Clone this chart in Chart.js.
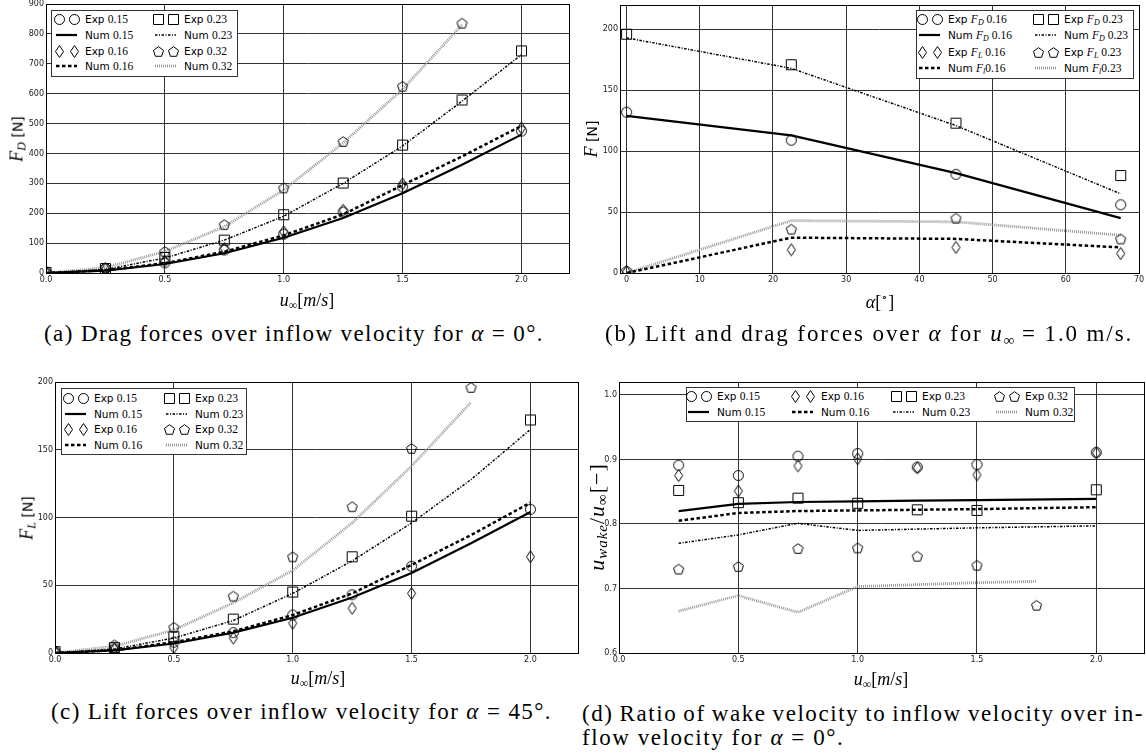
<!DOCTYPE html>
<html><head><meta charset="utf-8">
<script src="https://cdn.jsdelivr.net/npm/chart.js@4"></script>
<style>
html,body{margin:0;padding:0;background:#fff;}
body{width:1146px;height:754px;position:relative;overflow:hidden;font-family:'DejaVu Sans',sans-serif;color:#000;}
.cw{position:absolute;}
.lg{position:absolute;background:#fff;border:1px solid #333;box-sizing:border-box;}
.li{position:absolute;white-space:nowrap;font-size:10.5px;line-height:12px;transform:translateY(-50%);}
.sf{font-family:'Liberation Serif',serif;font-size:11.5px;}
.sf i{font-style:italic;}
.sf sub{font-size:8px;vertical-align:-2px;line-height:0;}
.ax{position:absolute;white-space:nowrap;font-family:'Liberation Serif',serif;font-size:18px;line-height:20px;}
.ax sub{font-size:12px;vertical-align:-3px;line-height:0;}
.ax .ss{font-family:'DejaVu Sans',sans-serif;font-size:14px;}
.ax.big{font-size:22px;letter-spacing:1px;}
.ax.big sub{font-size:15px;}
.cap{position:absolute;white-space:nowrap;font-family:'Liberation Serif',serif;font-size:23px;line-height:26px;}
.cap sub{font-size:15px;vertical-align:-4px;line-height:0;letter-spacing:0;}
</style>
</head><body>
<script>
// ---------------- DATA ----------------
// (a) drag forces over inflow velocity, alpha = 0
const uA = [0, 0.25, 0.5, 0.75, 1.0, 1.25, 1.5, 1.75, 2.0];
const uExpA = [0, 0.25, 0.5, 0.75, 1.0, 1.25, 1.5, 2.0];
const uExpA023 = [0, 0.25, 0.5, 0.75, 1.0, 1.25, 1.5, 1.75, 2.0];
const uA032 = [0, 0.25, 0.5, 0.75, 1.0, 1.25, 1.5, 1.75];
const expA015 = [3, 15, 34, 77, 130, 204, 288, 475];
const expA016 = [2, 13, 40, 82, 138, 210, 298, 485];
const expA023 = [2, 15, 52, 110, 195, 301, 428, 579, 743];
const expA032 = [3, 18, 72, 162, 285, 440, 625, 836];
const numA015 = [0, 8, 30, 66, 118, 184, 267, 362, 463];
const numA016 = [0, 9, 33, 71, 126, 196, 294, 390, 492];
const numA023 = [0, 12, 50, 110, 190, 300, 425, 575, 730];
const numA032 = [0, 18, 72, 155, 278, 435, 615, 830];
const ticksAx = [0, 0.5, 1.0, 1.5, 2.0];
const ticksAy = [0, 100, 200, 300, 400, 500, 600, 700, 800, 900];

// (b) lift and drag over alpha, u = 1.0 m/s
const alphaB = [0, 22.5, 45, 67.5];
const expFD016 = [132, 109, 81, 56];
const numFD016 = [129, 113, 82, 45];
const expFD023 = [196, 171, 123, 80];
const numFD023 = [193, 168, 121, 65];
const expFL016 = [1, 19, 21, 16];
const numFL016 = [0, 29, 28, 21];
const expFL023 = [2, 36, 45, 28];
const numFL023 = [0, 43, 42, 31];
const ticksBx = [0, 10, 20, 30, 40, 50, 60, 70];
const ticksBy = [0, 50, 100, 150, 200];

// (c) lift forces over inflow velocity, alpha = 45
const uExpC = [0, 0.25, 0.5, 0.75, 1.0, 1.25, 1.5, 2.0];
const uC = [0, 0.25, 0.5, 0.75, 1.0, 1.25, 1.5, 1.75, 2.0];
const uC032 = [0, 0.25, 0.5, 0.75, 1.0, 1.25, 1.5, 1.75];
const expC015 = [1, 3, 8, 15, 28, 43, 64, 106];
const expC016 = [1, 3, 4, 11, 22, 33, 44, 71];
const expC023 = [1, 4, 12, 25, 45, 71, 101, 172];
const expC032 = [1, 6, 19, 42, 71, 108, 151, 196];
const numC015 = [0, 2, 7, 15, 26, 41, 59, 81, 104];
const numC016 = [0, 2, 8, 16, 28, 44, 65, 87, 111];
const numC023 = [0, 3, 11, 24, 44, 68, 96, 128, 165];
const numC032 = [0, 5, 17, 37, 61, 96, 138, 185];
const ticksCx = [0, 0.5, 1.0, 1.5, 2.0];
const ticksCy = [0, 50, 100, 150, 200];

// (d) wake velocity ratio over inflow velocity, alpha = 0
const uD = [0.25, 0.5, 0.75, 1.0, 1.25, 1.5, 2.0];
const uD032 = [0.25, 0.5, 0.75, 1.0, 1.25, 1.5, 1.75];
const expD015 = [0.891, 0.875, 0.905, 0.909, 0.888, 0.892, 0.911];
const expD016 = [0.875, 0.851, 0.890, 0.901, 0.887, 0.876, 0.910];
const expD023 = [0.852, 0.833, 0.840, 0.832, 0.822, 0.821, 0.853];
const expD032 = [0.730, 0.734, 0.762, 0.763, 0.750, 0.736, 0.674];
const numD015 = [0.820, 0.831, 0.834, 0.835, 0.836, 0.837, 0.839];
const numD016 = [0.805, 0.817, 0.820, 0.821, 0.822, 0.823, 0.826];
const numD023 = [0.770, 0.783, 0.801, 0.790, 0.792, 0.794, 0.797];
const numD032 = [0.665, 0.689, 0.663, 0.703, 0.706, 0.709, 0.711];
const ticksDx = [0, 0.5, 1.0, 1.5, 2.0];
const ticksDy = [0.6, 0.7, 0.8, 0.9, 1.0];

// ---------------- STYLES ----------------
function marker(shape) {
  const c = document.createElement('canvas');
  let w = 13, h = 13;
  if (shape === 'diamond') { w = 11; h = 15; }
  c.width = w; c.height = h;
  const g = c.getContext('2d');
  g.strokeStyle = '#000'; g.lineWidth = 1;
  g.beginPath();
  if (shape === 'circle') { g.arc(6.5, 6.5, 5, 0, Math.PI * 2); }
  else if (shape === 'square') { g.rect(1.5, 1.5, 10, 10); }
  else if (shape === 'diamond') { g.moveTo(5.5, 1.5); g.lineTo(9.5, 7.5); g.lineTo(5.5, 13.5); g.lineTo(1.5, 7.5); g.closePath(); }
  else if (shape === 'pentagon') {
    for (let k = 0; k < 5; k++) {
      const a = -Math.PI / 2 + k * 2 * Math.PI / 5;
      const px = 6.5 + 5.3 * Math.cos(a), py = 7 + 5.3 * Math.sin(a);
      if (k === 0) g.moveTo(px, py); else g.lineTo(px, py);
    }
    g.closePath();
  }
  g.stroke();
  return c;
}
const MK = { circle: marker('circle'), square: marker('square'), diamond: marker('diamond'), pentagon: marker('pentagon') };
const LS = {
  solid: { color: '#000', width: 2.2, dash: [] },
  dashed: { color: '#000', width: 2.5, dash: [3.5, 2.5] },
  dashdot: { color: '#000', width: 1.5, dash: [2.5, 1.5, 1, 1.5] },
  gray: { color: '#999', width: 2.8, dash: [1, 1] }
};

function pts(xs, ys) { return xs.map((x, i) => ({ x: x, y: ys[i] })); }
function expDS(xs, ys, shape) {
  return { data: pts(xs, ys), showLine: false, pointStyle: MK[shape], pointRadius: 6, clip: 0, order: 1 };
}
function numDS(xs, ys, st) {
  const s = LS[st];
  return { data: pts(xs, ys), showLine: true, pointRadius: 0, borderColor: s.color, borderWidth: s.width, borderDash: s.dash, tension: 0, fill: false, clip: 0, order: 2 };
}

const framePlugin = {
  id: 'frame',
  afterDatasetsDraw(chart) {
    const a = chart.chartArea, ctx = chart.ctx;
    ctx.save(); ctx.strokeStyle = '#000'; ctx.lineWidth = 1; ctx.setLineDash([]);
    ctx.strokeRect(Math.round(a.left) + 0.5, Math.round(a.top) + 0.5, Math.round(a.right - a.left), Math.round(a.bottom - a.top));
    ctx.restore();
  }
};

const YW = 44, PT = 10, PR = 12, XH = 20;
function makeChart(area, xr, yr, xTicks, yTicks, xFmt, yFmt, datasets) {
  const W = (area.r - area.l) + YW + PR, H = (area.b - area.t) + PT + XH;
  const div = document.createElement('div');
  div.className = 'cw';
  div.style.left = (area.l - YW) + 'px'; div.style.top = (area.t - PT) + 'px';
  div.style.width = W + 'px'; div.style.height = H + 'px';
  const cv = document.createElement('canvas');
  cv.width = W; cv.height = H; cv.style.width = W + 'px'; cv.style.height = H + 'px';
  div.appendChild(cv); document.body.appendChild(div);
  const tickFont = { family: 'DejaVu Sans', size: 8 };
  new Chart(cv, {
    type: 'scatter',
    data: { datasets: datasets },
    options: {
      responsive: false, animation: false, devicePixelRatio: 1, events: [],
      layout: { padding: { left: 0, top: PT, right: PR, bottom: 0 } },
      plugins: { legend: { display: false }, tooltip: { enabled: false } },
      scales: {
        x: {
          type: 'linear', min: xr[0], max: xr[1],
          afterBuildTicks: s => { s.ticks = xTicks.map(v => ({ value: v })); },
          afterFit: s => { s.height = XH; },
          ticks: { font: tickFont, color: '#222', padding: 2, maxRotation: 0, autoSkip: false, callback: v => xFmt(v) },
          grid: { color: '#333', lineWidth: 1, drawTicks: false },
          border: { display: false }
        },
        y: {
          type: 'linear', min: yr[0], max: yr[1],
          afterBuildTicks: s => { s.ticks = yTicks.map(v => ({ value: v })); },
          afterFit: s => { s.width = YW; },
          ticks: { font: tickFont, color: '#222', padding: 2, autoSkip: false, callback: v => yFmt(v) },
          grid: { color: '#333', lineWidth: 1, drawTicks: false },
          border: { display: false }
        }
      }
    },
    plugins: [framePlugin]
  });
}
const f1 = v => Number(v).toFixed(1);
const f0 = v => String(Math.round(v));

// (a)
makeChart({ l: 46, r: 569, t: 4, b: 273 }, [0, 2.2], [0, 900], ticksAx, ticksAy, f1, f0, [
  expDS(uExpA, expA015, 'circle'), expDS(uExpA, expA016, 'diamond'),
  expDS(uExpA023, expA023, 'square'), expDS(uA032, expA032, 'pentagon'),
  numDS(uA, numA015, 'solid'), numDS(uA, numA016, 'dashed'),
  numDS(uA, numA023, 'dashdot'), numDS(uA032, numA032, 'gray')
]);
// (b)
makeChart({ l: 620, r: 1139, t: 5, b: 273 }, [-0.9, 70], [0, 220], ticksBx, ticksBy, f0, f0, [
  expDS(alphaB, expFD016, 'circle'), expDS(alphaB, expFD023, 'square'),
  expDS(alphaB, expFL016, 'diamond'), expDS(alphaB, expFL023, 'pentagon'),
  numDS(alphaB, numFD016, 'solid'), numDS(alphaB, numFD023, 'dashdot'),
  numDS(alphaB, numFL016, 'dashed'), numDS(alphaB, numFL023, 'gray')
]);
// (c)
makeChart({ l: 55, r: 578, t: 382, b: 653 }, [0, 2.2], [0, 200], ticksCx, ticksCy, f1, f0, [
  expDS(uExpC, expC015, 'circle'), expDS(uExpC, expC016, 'diamond'),
  expDS(uExpC, expC023, 'square'), expDS(uC032, expC032, 'pentagon'),
  numDS(uC, numC015, 'solid'), numDS(uC, numC016, 'dashed'),
  numDS(uC, numC023, 'dashdot'), numDS(uC032, numC032, 'gray')
]);
// (d)
makeChart({ l: 619, r: 1144, t: 382, b: 653 }, [0, 2.2], [0.6, 1.02], ticksDx, ticksDy, f1, f1, [
  expDS(uD, expD015, 'circle'), expDS(uD, expD016, 'diamond'),
  expDS(uD, expD023, 'square'), expDS(uD032, expD032, 'pentagon'),
  numDS(uD, numD015, 'solid'), numDS(uD, numD016, 'dashed'),
  numDS(uD, numD023, 'dashdot'), numDS(uD032, numD032, 'gray')
]);

// ---------------- LEGENDS ----------------
function lineSample(st, len) {
  const s = LS[st];
  const c = document.createElement('canvas');
  c.width = len; c.height = 6;
  const g = c.getContext('2d');
  g.strokeStyle = s.color; g.lineWidth = s.width; g.setLineDash(s.dash);
  g.beginPath(); g.moveTo(0, 3); g.lineTo(len, 3); g.stroke();
  c.style.position = 'absolute';
  return c;
}
function legend(box, entries) {
  const d = document.createElement('div');
  d.className = 'lg';
  d.style.left = box.l + 'px'; d.style.top = box.t + 'px';
  d.style.width = box.w + 'px'; d.style.height = box.h + 'px';
  entries.forEach(e => {
    const m = e.m, y = e.y;
    if (e.shape) {
      [m, m + 15].forEach(cx => {
        const src = MK[e.shape];
        const c = document.createElement('canvas');
        c.width = src.width; c.height = src.height;
        c.getContext('2d').drawImage(src, 0, 0);
        c.style.position = 'absolute';
        c.style.left = (cx - src.width / 2 - 1) + 'px';
        c.style.top = (y - src.height / 2 - 1) + 'px';
        d.appendChild(c);
      });
    } else {
      const c = lineSample(e.line, 21);
      c.style.left = (m - 3 - 1) + 'px'; c.style.top = (y - 3 - 1) + 'px';
      d.appendChild(c);
    }
    const t = document.createElement('div');
    t.className = 'li';
    t.style.left = (m + 26 - 1) + 'px'; t.style.top = (y - 1) + 'px';
    t.innerHTML = e.label;
    d.appendChild(t);
  });
  document.body.appendChild(d);
}
const n = s => '<span class="sf">' + s + '</span>';
function stdEntries(c1, c2, rows) {
  return [
    { m: c1, y: rows[0], shape: 'circle', label: 'Exp ' + n('0.15') },
    { m: c1, y: rows[1], line: 'solid', label: 'Num ' + n('0.15') },
    { m: c1, y: rows[2], shape: 'diamond', label: 'Exp ' + n('0.16') },
    { m: c1, y: rows[3], line: 'dashed', label: 'Num ' + n('0.16') },
    { m: c2, y: rows[0], shape: 'square', label: 'Exp ' + n('0.23') },
    { m: c2, y: rows[1], line: 'dashdot', label: 'Num ' + n('0.23') },
    { m: c2, y: rows[2], shape: 'pentagon', label: 'Exp ' + n('0.32') },
    { m: c2, y: rows[3], line: 'gray', label: 'Num ' + n('0.32') }
  ];
}
legend({ l: 51, t: 10, w: 187, h: 67 }, stdEntries(8, 107, [9, 25, 41, 56]));
legend({ l: 61, t: 388, w: 186, h: 67 }, stdEntries(7, 108, [10, 26, 41, 57]));
const FD = '<i>F</i><sub><i>D</i></sub>', FL = '<i>F</i><sub><i>L</i></sub>', Fl = '<i>F</i><sub><i>l</i></sub>';
legend({ l: 916, t: 10, w: 218, h: 69 }, [
  { m: 6, y: 9, shape: 'circle', label: 'Exp ' + n(FD + ' 0.16') },
  { m: 6, y: 25, line: 'solid', label: 'Num ' + n(FD + ' 0.16') },
  { m: 6, y: 42, shape: 'diamond', label: 'Exp ' + n(FL + ' 0.16') },
  { m: 6, y: 58, line: 'dashed', label: 'Num ' + n(Fl + '0.16') },
  { m: 122, y: 9, shape: 'square', label: 'Exp ' + n(FD + ' 0.23') },
  { m: 122, y: 25, line: 'dashdot', label: 'Num ' + n(FD + ' 0.23') },
  { m: 122, y: 42, shape: 'pentagon', label: 'Exp ' + n(FL + ' 0.23') },
  { m: 122, y: 58, line: 'gray', label: 'Num ' + n(Fl + '0.23') }
]);
legend({ l: 686, t: 387, w: 389, h: 35 }, [
  { m: 5, y: 9, shape: 'circle', label: 'Exp ' + n('0.15') },
  { m: 5, y: 25, line: 'solid', label: 'Num ' + n('0.15') },
  { m: 109, y: 9, shape: 'diamond', label: 'Exp ' + n('0.16') },
  { m: 109, y: 25, line: 'dashed', label: 'Num ' + n('0.16') },
  { m: 210, y: 9, shape: 'square', label: 'Exp ' + n('0.23') },
  { m: 210, y: 25, line: 'dashdot', label: 'Num ' + n('0.23') },
  { m: 313, y: 9, shape: 'pentagon', label: 'Exp ' + n('0.32') },
  { m: 313, y: 25, line: 'gray', label: 'Num ' + n('0.32') }
]);

// ---------------- AXIS TITLES & CAPTIONS ----------------
function label(html, cx, cy, rot, cls) {
  const d = document.createElement('div');
  d.className = cls || 'ax';
  d.innerHTML = html;
  d.style.left = cx + 'px'; d.style.top = cy + 'px';
  d.style.transform = 'translate(-50%,-50%)' + (rot ? ' rotate(-90deg)' : '');
  document.body.appendChild(d);
  return d;
}
const uinf = '<i>u</i><sub>∞</sub>[<i>m</i>/<i>s</i>]';
label('<i>F</i><sub><i>D</i></sub> <span class="ss">[N]</span>', 17, 139, true);
label(uinf, 307, 300, false);
label('<i>F</i> <span class="ss">[N]</span>', 591, 139, true);
label('<i>α</i>[<sup style="font-size:11px">∘</sup>]', 880, 299, false);
label('<i>F</i><sub><i>L</i></sub> <span class="ss">[N]</span>', 27, 518, true);
label(uinf, 318, 678, false);
label('<i>u</i><sub><i>wake</i></sub>/<i>u</i><sub>∞</sub>[−]', 597, 517, true, 'ax big');
label(uinf, 881, 679, false);

function caption(html, left, cy) {
  const d = document.createElement('div');
  d.className = 'cap';
  d.innerHTML = html;
  d.style.left = left + 'px'; d.style.top = (cy - 13) + 'px';
  document.body.appendChild(d);
  return d;
}
function fitSpacing(d, target) {
  const txt = d.textContent.length;
  const w = d.getBoundingClientRect().width;
  return (target - w) / txt;
}
const capA = caption('(a) Drag forces over inflow velocity for <i>α</i> = 0°.', 44, 334);
const capB = caption('(b) Lift and drag forces over <i>α</i> for <i>u</i><sub>∞</sub> = 1.0 m/s.', 605, 334);
const capC = caption('(c) Lift forces over inflow velocity for <i>α</i> = 45°.', 51, 712);
const capD1 = caption('(d) Ratio of wake velocity to inflow velocity over in-', 582, 714);
const capD2 = caption('flow velocity for <i>α</i> = 0°.', 582, 738);
const lsA = fitSpacing(capA, 500), lsB = fitSpacing(capB, 530), lsC = fitSpacing(capC, 501);
const ls = (lsA + lsB + lsC) / 3;
capA.style.letterSpacing = lsA + 'px';
capB.style.letterSpacing = lsB + 'px';
capC.style.letterSpacing = lsC + 'px';
capD2.style.letterSpacing = ls + 'px';
capD1.style.letterSpacing = ls + 'px';
// justify first line of (d) to the column width
const wD1 = capD1.getBoundingClientRect().width;
const gaps = (capD1.textContent.match(/ /g) || []).length;
capD1.style.wordSpacing = ((562 - wD1) / gaps) + 'px';
</script>
</body></html>
